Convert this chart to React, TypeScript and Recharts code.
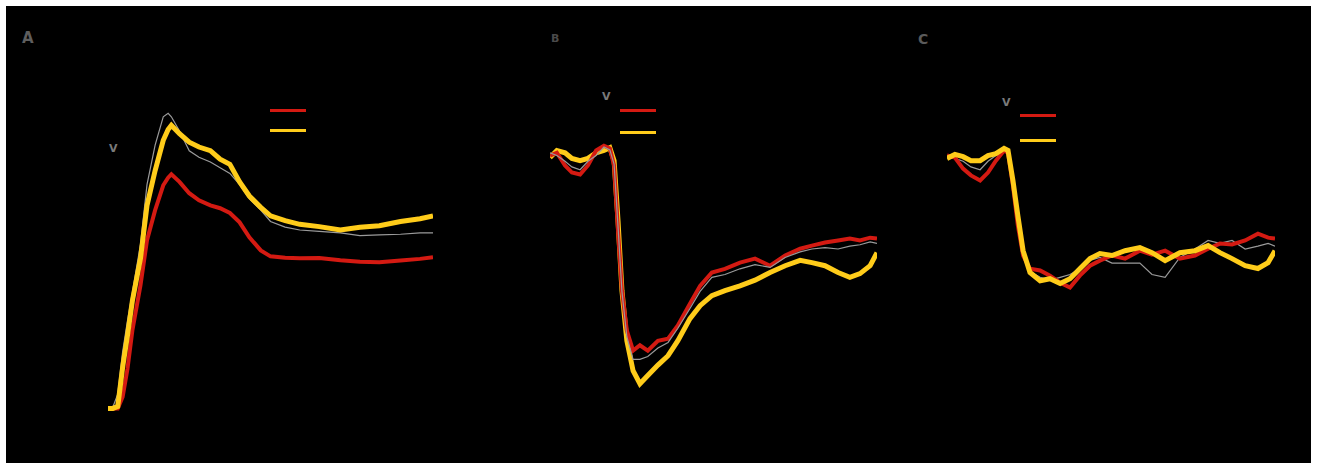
import { LineChart, Line, XAxis, YAxis } from 'recharts';

// Panel A: rise after stimulus (time in % of window, response in arbitrary units)
const timeA = [0, 1.5, 3, 4.5, 6, 7.5, 10, 12, 14.5, 17, 18.5, 19.5, 22, 25, 28, 31.5, 34.5, 37.5, 40.5, 43.5, 47, 50, 54.5, 59, 65, 71.5, 77.5, 83.5, 90, 96, 100];
const yellowA = [0, 0, 0.7, 14.5, 25.8, 38, 53, 71.7, 84, 94.7, 98.5, 100, 97, 94, 92.3, 91, 88, 86.2, 80, 75, 71, 68, 66.3, 65, 64.2, 63, 64, 64.5, 66, 67, 68];
const redA = [0, 0, 0, 4, 14, 27.5, 43.5, 59.4, 70, 78.8, 81.5, 82.7, 80, 76, 73.5, 71.7, 70.7, 69, 65.7, 60.4, 55.8, 53.7, 53.2, 53, 53.1, 52.3, 51.8, 51.6, 52.2, 52.8, 53.4];
const greyA = [0, 0.5, 5, 20, 31, 41, 58, 79, 93, 103, 104.2, 103, 98, 91, 88.7, 87, 85, 83, 79, 74, 70, 66, 64, 63, 62.5, 62, 61, 61.3, 61.5, 62, 62];

// Panel B: drop after stimulus
const timeB = [0, 2.1, 4.6, 6.7, 9.2, 11.6, 14.1, 16.5, 18.3, 19.6, 20.8, 22, 23.5, 25.4, 27.5, 29.9, 33, 36.1, 39.1, 42.8, 45.9, 49.5, 53.5, 58.1, 62.7, 67.3, 71.9, 76.5, 80.1, 84.1, 88.1, 91.7, 94.8, 97.9, 100];
const yellowB = [-0.7, 1.8, 1, -1, -1.8, -1, 1, 1.8, 2.8, -1.8, -23, -47.7, -65.4, -76, -80.6, -77.7, -74, -70.7, -65.4, -57.6, -53, -49.5, -47.7, -46, -44, -41.3, -38.9, -37, -37.8, -38.9, -41.3, -43, -41.7, -38.9, -34.3];
const redB = [0, 1, -3.5, -6, -6.7, -3.5, 1.8, 3.5, 2.5, -3.5, -26.5, -47.7, -61.8, -68.9, -67, -68.9, -65.4, -64.7, -60, -52.3, -46, -41.3, -40, -37.8, -36.4, -38.9, -35.3, -32.9, -31.8, -30.7, -30, -29.3, -30, -29, -29.3];
const greyB = [1, 0, -2, -4, -5, -2, 0, 3, 2, -3, -25, -48, -64, -72, -72, -71, -68, -66, -61, -54, -48, -43, -42, -40, -38.5, -39.5, -36, -34, -33, -32.5, -33, -32, -31.5, -30.5, -31];

// Panel C: drop then plateau
const timeC = [0, 2.4, 4.9, 7.3, 10.1, 12.5, 14.9, 17.4, 18.6, 20.1, 21.6, 23.2, 25.3, 28.4, 31.4, 34.5, 37.5, 40.5, 43.6, 46.6, 50.3, 54.3, 58.8, 62.5, 66.5, 71, 75.6, 79.6, 83.2, 86.9, 90.9, 94.8, 97.9, 100];
const yellowC = [-1, 0.4, -0.4, -1.8, -1.8, 0, 0.7, 2.5, 1.8, -8.8, -21.2, -33.6, -41.3, -44.2, -43.5, -45.2, -43.5, -40, -36.4, -34.6, -35.3, -33.6, -32.5, -34.3, -37.1, -34.3, -33.6, -31.8, -34.3, -36.4, -38.9, -39.9, -37.8, -33.6];
const redC = [0, -0.7, -4.6, -7, -8.8, -6, -1.8, 1.8, 1, -10.6, -24.7, -35.3, -40, -40.6, -42.4, -44.9, -46.6, -42.4, -38.9, -37.1, -35.3, -36.4, -33.6, -35, -33.6, -36.4, -35.3, -32.9, -31.1, -31.4, -30, -27.6, -29, -29.3];
const greyC = [0, -1, -2, -4, -5, -2, 0, 2, 1, -9, -22, -34, -41, -43, -44, -43, -42, -40, -37, -36, -38, -38, -38, -42, -43, -36, -33, -30, -31, -30, -33, -32, -31, -32];

const RED = '#d41a12';
const YELLOW = '#ffcc1a';
const GREY = '#9a9a9a';

const rows = (t: number[], y: number[], r: number[], g: number[]) =>
  t.map((time, i) => ({ time, yellow: y[i], red: r[i], grey: g[i] }));

const dataA = rows(timeA, yellowA, redA, greyA);
const dataB = rows(timeB, yellowB, redB, greyB);
const dataC = rows(timeC, yellowC, redC, greyC);

function Panel({ data, left, top, width, domain, yellowOnTop }: {
  data: any[]; left: number; top: number; width: number; domain: [number, number]; yellowOnTop: boolean;
}) {
  const lines = [
    <Line key="grey" dataKey="grey" stroke={GREY} strokeWidth={1.2} dot={false} isAnimationActive={false} />,
    <Line key="red" dataKey="red" stroke={RED} strokeWidth={4} dot={false} isAnimationActive={false} />,
    <Line key="yellow" dataKey="yellow" stroke={YELLOW} strokeWidth={5} dot={false} isAnimationActive={false} />,
  ];
  if (!yellowOnTop) lines.reverse();
  return (
    <div style={{ position: 'absolute', left, top }}>
      <LineChart width={width} height={453} data={data} margin={{ top: 0, right: 0, bottom: 0, left: 0 }}>
        <XAxis dataKey="time" type="number" domain={[0, 100]} hide />
        <YAxis type="number" domain={domain} hide allowDataOverflow />
        {lines}
      </LineChart>
    </div>
  );
}

function LegendMark({ left, top, gap }: { left: number; top: number; gap: number }) {
  return (
    <div style={{ position: 'absolute', left, top }}>
      <div style={{ width: 36, height: 3, background: RED }} />
      <div style={{ width: 36, height: 3, background: YELLOW, marginTop: gap }} />
    </div>
  );
}

const label = (text: string, left: number, top: number, size: number, color: string) => (
  <div style={{ position: 'absolute', left, top, fontSize: size, color, fontFamily: 'DejaVu Sans', fontWeight: 700, lineHeight: 1 }}>
    {text}
  </div>
);

export default function App() {
  return (
    <div style={{ position: 'absolute', left: 0, top: 0, width: 1318, height: 463, background: '#fff', overflow: 'hidden' }}>
      <div style={{ position: 'absolute', left: 6, top: 6, width: 1305, height: 457, background: '#000' }} />
      {label('A', 22, 31, 15, '#5e5e5e')}
      {label('B', 551, 33, 11, '#4a4a4a')}
      {label('C', 918, 32, 14, '#5a5a5a')}
      {label('V', 109, 143, 11, '#7a7a7a')}
      {label('V', 602, 91, 11, '#7a7a7a')}
      {label('V', 1002, 97, 11, '#7a7a7a')}
      <Panel data={dataA} left={108} top={12} width={325} domain={[-20, 140]} yellowOnTop />
      <Panel data={dataB} left={550} top={14} width={327} domain={[-110, 50]} yellowOnTop={false} />
      <Panel data={dataC} left={947} top={14} width={328} domain={[-110, 50]} yellowOnTop />
      <LegendMark left={270} top={109} gap={17} />
      <LegendMark left={620} top={109} gap={19} />
      <LegendMark left={1020} top={114} gap={22} />
    </div>
  );
}
